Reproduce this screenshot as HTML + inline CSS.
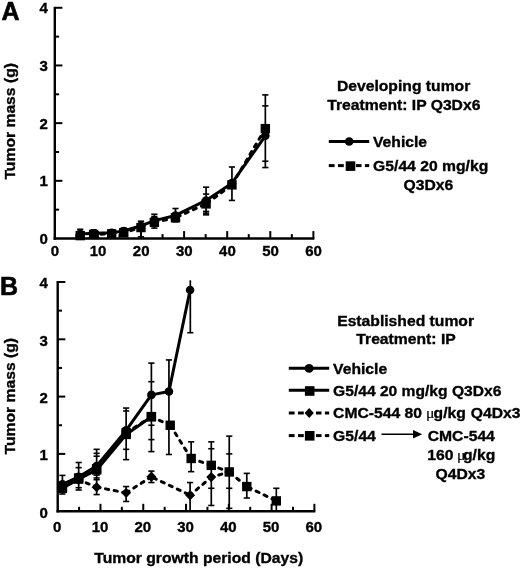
<!DOCTYPE html>
<html><head><meta charset="utf-8"><style>
html,body{margin:0;padding:0;background:#fff;}
svg{display:block;filter:grayscale(1) blur(0.3px);}
text{font-family:"Liberation Sans", sans-serif;font-weight:bold;fill:#000;stroke:#000;stroke-width:0.35px;}
.t{font-size:15px;}
.L{font-size:15px;}
.P{font-size:25px;stroke-width:0.6px;}
.mu{font-family:"Liberation Serif",serif;font-weight:normal;stroke-width:0.2px;}
</style></head><body>
<svg width="520" height="569" viewBox="0 0 520 569">
<line x1="54.8" y1="6.8" x2="54.8" y2="239.7" stroke="#000" stroke-width="2.4"/>
<line x1="53.599999999999994" y1="238.5" x2="314.4" y2="238.5" stroke="#000" stroke-width="2.4"/>
<line x1="54.8" y1="209.66" x2="59.099999999999994" y2="209.66" stroke="#000" stroke-width="2"/>
<line x1="54.8" y1="180.82" x2="62.4" y2="180.82" stroke="#000" stroke-width="2"/>
<line x1="54.8" y1="151.98" x2="59.099999999999994" y2="151.98" stroke="#000" stroke-width="2"/>
<line x1="54.8" y1="123.14" x2="62.4" y2="123.14" stroke="#000" stroke-width="2"/>
<line x1="54.8" y1="94.30" x2="59.099999999999994" y2="94.30" stroke="#000" stroke-width="2"/>
<line x1="54.8" y1="65.46" x2="62.4" y2="65.46" stroke="#000" stroke-width="2"/>
<line x1="54.8" y1="36.62" x2="59.099999999999994" y2="36.62" stroke="#000" stroke-width="2"/>
<line x1="54.8" y1="7.78" x2="62.4" y2="7.78" stroke="#000" stroke-width="2"/>
<line x1="76.35" y1="238.5" x2="76.35" y2="234.1" stroke="#000" stroke-width="2"/>
<line x1="97.90" y1="238.5" x2="97.90" y2="231.1" stroke="#000" stroke-width="2"/>
<line x1="119.45" y1="238.5" x2="119.45" y2="234.1" stroke="#000" stroke-width="2"/>
<line x1="141.00" y1="238.5" x2="141.00" y2="231.1" stroke="#000" stroke-width="2"/>
<line x1="162.55" y1="238.5" x2="162.55" y2="234.1" stroke="#000" stroke-width="2"/>
<line x1="184.10" y1="238.5" x2="184.10" y2="231.1" stroke="#000" stroke-width="2"/>
<line x1="205.65" y1="238.5" x2="205.65" y2="234.1" stroke="#000" stroke-width="2"/>
<line x1="227.20" y1="238.5" x2="227.20" y2="231.1" stroke="#000" stroke-width="2"/>
<line x1="248.75" y1="238.5" x2="248.75" y2="234.1" stroke="#000" stroke-width="2"/>
<line x1="270.30" y1="238.5" x2="270.30" y2="231.1" stroke="#000" stroke-width="2"/>
<line x1="291.85" y1="238.5" x2="291.85" y2="234.1" stroke="#000" stroke-width="2"/>
<line x1="313.40" y1="238.5" x2="313.40" y2="231.1" stroke="#000" stroke-width="2"/>
<text x="47.8" y="244.10" text-anchor="end" class="t">0</text>
<text x="47.8" y="186.42" text-anchor="end" class="t">1</text>
<text x="47.8" y="128.74" text-anchor="end" class="t">2</text>
<text x="47.8" y="71.06" text-anchor="end" class="t">3</text>
<text x="47.8" y="13.38" text-anchor="end" class="t">4</text>
<text x="55.00" y="256.40" text-anchor="middle" class="t">0</text>
<text x="98.10" y="256.40" text-anchor="middle" class="t">10</text>
<text x="141.20" y="256.40" text-anchor="middle" class="t">20</text>
<text x="184.30" y="256.40" text-anchor="middle" class="t">30</text>
<text x="227.40" y="256.40" text-anchor="middle" class="t">40</text>
<text x="270.50" y="256.40" text-anchor="middle" class="t">50</text>
<text x="313.60" y="256.40" text-anchor="middle" class="t">60</text>
<line x1="80.23" y1="229.27" x2="80.23" y2="238.50" stroke="#000" stroke-width="1.7"/>
<line x1="77.13" y1="229.27" x2="83.33" y2="229.27" stroke="#000" stroke-width="1.6"/>
<line x1="77.13" y1="238.50" x2="83.33" y2="238.50" stroke="#000" stroke-width="1.6"/>
<line x1="93.59" y1="229.85" x2="93.59" y2="237.35" stroke="#000" stroke-width="1.7"/>
<line x1="90.49" y1="229.85" x2="96.69" y2="229.85" stroke="#000" stroke-width="1.6"/>
<line x1="90.49" y1="237.35" x2="96.69" y2="237.35" stroke="#000" stroke-width="1.6"/>
<line x1="111.69" y1="229.85" x2="111.69" y2="236.77" stroke="#000" stroke-width="1.7"/>
<line x1="108.59" y1="229.85" x2="114.79" y2="229.85" stroke="#000" stroke-width="1.6"/>
<line x1="108.59" y1="236.77" x2="114.79" y2="236.77" stroke="#000" stroke-width="1.6"/>
<line x1="123.76" y1="228.12" x2="123.76" y2="236.19" stroke="#000" stroke-width="1.7"/>
<line x1="120.66" y1="228.12" x2="126.86" y2="228.12" stroke="#000" stroke-width="1.6"/>
<line x1="120.66" y1="236.19" x2="126.86" y2="236.19" stroke="#000" stroke-width="1.6"/>
<line x1="141.00" y1="221.20" x2="141.00" y2="236.77" stroke="#000" stroke-width="1.7"/>
<line x1="137.90" y1="221.20" x2="144.10" y2="221.20" stroke="#000" stroke-width="1.6"/>
<line x1="137.90" y1="236.77" x2="144.10" y2="236.77" stroke="#000" stroke-width="1.6"/>
<line x1="154.36" y1="214.27" x2="154.36" y2="228.12" stroke="#000" stroke-width="1.7"/>
<line x1="151.26" y1="214.27" x2="157.46" y2="214.27" stroke="#000" stroke-width="1.6"/>
<line x1="151.26" y1="228.12" x2="157.46" y2="228.12" stroke="#000" stroke-width="1.6"/>
<line x1="175.48" y1="208.51" x2="175.48" y2="221.77" stroke="#000" stroke-width="1.7"/>
<line x1="172.38" y1="208.51" x2="178.58" y2="208.51" stroke="#000" stroke-width="1.6"/>
<line x1="172.38" y1="221.77" x2="178.58" y2="221.77" stroke="#000" stroke-width="1.6"/>
<line x1="206.08" y1="187.16" x2="206.08" y2="214.85" stroke="#000" stroke-width="1.7"/>
<line x1="202.98" y1="187.16" x2="209.18" y2="187.16" stroke="#000" stroke-width="1.6"/>
<line x1="202.98" y1="214.85" x2="209.18" y2="214.85" stroke="#000" stroke-width="1.6"/>
<line x1="231.94" y1="166.98" x2="231.94" y2="200.43" stroke="#000" stroke-width="1.7"/>
<line x1="228.84" y1="166.98" x2="235.04" y2="166.98" stroke="#000" stroke-width="1.6"/>
<line x1="228.84" y1="200.43" x2="235.04" y2="200.43" stroke="#000" stroke-width="1.6"/>
<line x1="265.34" y1="94.88" x2="265.34" y2="167.55" stroke="#000" stroke-width="1.7"/>
<line x1="262.24" y1="94.88" x2="268.44" y2="94.88" stroke="#000" stroke-width="1.6"/>
<line x1="262.24" y1="167.55" x2="268.44" y2="167.55" stroke="#000" stroke-width="1.6"/>
<line x1="202.98" y1="194.09" x2="209.18" y2="194.09" stroke="#000" stroke-width="1.6"/>
<line x1="202.98" y1="211.39" x2="209.18" y2="211.39" stroke="#000" stroke-width="1.6"/>
<line x1="202.98" y1="213.12" x2="209.18" y2="213.12" stroke="#000" stroke-width="1.6"/>
<line x1="262.24" y1="105.84" x2="268.44" y2="105.84" stroke="#000" stroke-width="1.6"/>
<line x1="262.24" y1="161.21" x2="268.44" y2="161.21" stroke="#000" stroke-width="1.6"/>
<line x1="151.26" y1="216.58" x2="157.46" y2="216.58" stroke="#000" stroke-width="1.6"/>
<line x1="93.59" y1="234.46" x2="111.69" y2="233.89" stroke="#000" stroke-width="3" stroke-dasharray="3.2,5.6" stroke-dashoffset="-7.46" stroke-linecap="round"/>
<line x1="123.76" y1="232.73" x2="141.00" y2="227.54" stroke="#000" stroke-width="3" stroke-dasharray="3.2,5.6" stroke-dashoffset="-7.40" stroke-linecap="round"/>
<line x1="154.36" y1="222.35" x2="175.48" y2="217.74" stroke="#000" stroke-width="3" stroke-dasharray="3.2,5.6" stroke-dashoffset="-9.21" stroke-linecap="round"/>
<line x1="175.48" y1="217.74" x2="206.08" y2="203.89" stroke="#000" stroke-width="3" stroke-dasharray="3.2,5.6" stroke-dashoffset="-10.79" stroke-linecap="round"/>
<line x1="206.08" y1="203.89" x2="231.94" y2="184.86" stroke="#000" stroke-width="3" stroke-dasharray="3.2,5.6" stroke-dashoffset="-10.05" stroke-linecap="round"/>
<line x1="231.94" y1="184.86" x2="265.34" y2="128.62" stroke="#000" stroke-width="3" stroke-dasharray="3.2,5.6" stroke-dashoffset="-9.10" stroke-linecap="round"/>
<polyline points="80.23,233.89 93.59,233.31 111.69,232.73 123.76,231.00 141.00,225.81 154.36,220.62 175.48,215.43 206.08,200.43 231.94,183.13 265.34,135.83" fill="none" stroke="#000" stroke-width="3" stroke-linejoin="round"/>
<circle cx="80.23" cy="233.89" r="4.3" fill="#000"/>
<circle cx="93.59" cy="233.31" r="4.3" fill="#000"/>
<circle cx="111.69" cy="232.73" r="4.3" fill="#000"/>
<circle cx="123.76" cy="231.00" r="4.3" fill="#000"/>
<circle cx="141.00" cy="225.81" r="4.3" fill="#000"/>
<circle cx="154.36" cy="220.62" r="4.3" fill="#000"/>
<circle cx="175.48" cy="215.43" r="4.3" fill="#000"/>
<circle cx="206.08" cy="200.43" r="4.3" fill="#000"/>
<circle cx="231.94" cy="183.13" r="4.3" fill="#000"/>
<circle cx="265.34" cy="135.83" r="4.3" fill="#000"/>
<rect x="75.53" y="230.92" width="9.4" height="9.4" fill="#000"/>
<rect x="88.89" y="229.76" width="9.4" height="9.4" fill="#000"/>
<rect x="106.99" y="229.19" width="9.4" height="9.4" fill="#000"/>
<rect x="119.06" y="228.03" width="9.4" height="9.4" fill="#000"/>
<rect x="136.30" y="222.84" width="9.4" height="9.4" fill="#000"/>
<rect x="149.66" y="217.65" width="9.4" height="9.4" fill="#000"/>
<rect x="170.78" y="213.04" width="9.4" height="9.4" fill="#000"/>
<rect x="201.38" y="199.19" width="9.4" height="9.4" fill="#000"/>
<rect x="227.24" y="180.16" width="9.4" height="9.4" fill="#000"/>
<rect x="260.64" y="123.92" width="9.4" height="9.4" fill="#000"/>
<line x1="57.7" y1="281.0" x2="57.7" y2="512.4" stroke="#000" stroke-width="2.4"/>
<line x1="56.5" y1="511.2" x2="315.4" y2="511.2" stroke="#000" stroke-width="2.4"/>
<line x1="57.7" y1="482.55" x2="62.0" y2="482.55" stroke="#000" stroke-width="2"/>
<line x1="57.7" y1="453.90" x2="65.3" y2="453.90" stroke="#000" stroke-width="2"/>
<line x1="57.7" y1="425.25" x2="62.0" y2="425.25" stroke="#000" stroke-width="2"/>
<line x1="57.7" y1="396.60" x2="65.3" y2="396.60" stroke="#000" stroke-width="2"/>
<line x1="57.7" y1="367.95" x2="62.0" y2="367.95" stroke="#000" stroke-width="2"/>
<line x1="57.7" y1="339.30" x2="65.3" y2="339.30" stroke="#000" stroke-width="2"/>
<line x1="57.7" y1="310.65" x2="62.0" y2="310.65" stroke="#000" stroke-width="2"/>
<line x1="57.7" y1="282.00" x2="65.3" y2="282.00" stroke="#000" stroke-width="2"/>
<line x1="79.09" y1="511.2" x2="79.09" y2="506.8" stroke="#000" stroke-width="2"/>
<line x1="100.48" y1="511.2" x2="100.48" y2="503.8" stroke="#000" stroke-width="2"/>
<line x1="121.87" y1="511.2" x2="121.87" y2="506.8" stroke="#000" stroke-width="2"/>
<line x1="143.26" y1="511.2" x2="143.26" y2="503.8" stroke="#000" stroke-width="2"/>
<line x1="164.65" y1="511.2" x2="164.65" y2="506.8" stroke="#000" stroke-width="2"/>
<line x1="186.04" y1="511.2" x2="186.04" y2="503.8" stroke="#000" stroke-width="2"/>
<line x1="207.43" y1="511.2" x2="207.43" y2="506.8" stroke="#000" stroke-width="2"/>
<line x1="228.82" y1="511.2" x2="228.82" y2="503.8" stroke="#000" stroke-width="2"/>
<line x1="250.21" y1="511.2" x2="250.21" y2="506.8" stroke="#000" stroke-width="2"/>
<line x1="271.60" y1="511.2" x2="271.60" y2="503.8" stroke="#000" stroke-width="2"/>
<line x1="292.99" y1="511.2" x2="292.99" y2="506.8" stroke="#000" stroke-width="2"/>
<line x1="314.38" y1="511.2" x2="314.38" y2="503.8" stroke="#000" stroke-width="2"/>
<text x="47.8" y="517.50" text-anchor="end" class="t">0</text>
<text x="47.8" y="460.20" text-anchor="end" class="t">1</text>
<text x="47.8" y="402.90" text-anchor="end" class="t">2</text>
<text x="47.8" y="345.60" text-anchor="end" class="t">3</text>
<text x="47.8" y="288.30" text-anchor="end" class="t">4</text>
<text x="57.20" y="532.00" text-anchor="middle" class="t">0</text>
<text x="99.98" y="532.00" text-anchor="middle" class="t">10</text>
<text x="142.76" y="532.00" text-anchor="middle" class="t">20</text>
<text x="185.54" y="532.00" text-anchor="middle" class="t">30</text>
<text x="228.32" y="532.00" text-anchor="middle" class="t">40</text>
<text x="271.10" y="532.00" text-anchor="middle" class="t">50</text>
<text x="313.88" y="532.00" text-anchor="middle" class="t">60</text>
<line x1="62.41" y1="475.39" x2="62.41" y2="494.01" stroke="#000" stroke-width="1.7"/>
<line x1="59.31" y1="475.39" x2="65.51" y2="475.39" stroke="#000" stroke-width="1.6"/>
<line x1="59.31" y1="494.01" x2="65.51" y2="494.01" stroke="#000" stroke-width="1.6"/>
<line x1="78.66" y1="462.50" x2="78.66" y2="490.00" stroke="#000" stroke-width="1.7"/>
<line x1="75.56" y1="462.50" x2="81.76" y2="462.50" stroke="#000" stroke-width="1.6"/>
<line x1="75.56" y1="490.00" x2="81.76" y2="490.00" stroke="#000" stroke-width="1.6"/>
<line x1="96.63" y1="449.32" x2="96.63" y2="494.58" stroke="#000" stroke-width="1.7"/>
<line x1="93.53" y1="449.32" x2="99.73" y2="449.32" stroke="#000" stroke-width="1.6"/>
<line x1="93.53" y1="494.58" x2="99.73" y2="494.58" stroke="#000" stroke-width="1.6"/>
<line x1="126.15" y1="408.06" x2="126.15" y2="459.63" stroke="#000" stroke-width="1.7"/>
<line x1="123.05" y1="408.06" x2="129.25" y2="408.06" stroke="#000" stroke-width="1.6"/>
<line x1="123.05" y1="459.63" x2="129.25" y2="459.63" stroke="#000" stroke-width="1.6"/>
<line x1="151.39" y1="363.08" x2="151.39" y2="451.61" stroke="#000" stroke-width="1.7"/>
<line x1="148.29" y1="363.08" x2="154.49" y2="363.08" stroke="#000" stroke-width="1.6"/>
<line x1="148.29" y1="451.61" x2="154.49" y2="451.61" stroke="#000" stroke-width="1.6"/>
<line x1="168.93" y1="359.93" x2="168.93" y2="454.47" stroke="#000" stroke-width="1.7"/>
<line x1="165.83" y1="359.93" x2="172.03" y2="359.93" stroke="#000" stroke-width="1.6"/>
<line x1="165.83" y1="454.47" x2="172.03" y2="454.47" stroke="#000" stroke-width="1.6"/>
<line x1="190.32" y1="280.28" x2="190.32" y2="332.71" stroke="#000" stroke-width="1.7"/>
<line x1="187.22" y1="332.71" x2="193.42" y2="332.71" stroke="#000" stroke-width="1.6"/>
<line x1="191.17" y1="441.87" x2="191.17" y2="471.66" stroke="#000" stroke-width="1.7"/>
<line x1="188.07" y1="441.87" x2="194.27" y2="441.87" stroke="#000" stroke-width="1.6"/>
<line x1="188.07" y1="471.66" x2="194.27" y2="471.66" stroke="#000" stroke-width="1.6"/>
<line x1="190.10" y1="482.55" x2="190.10" y2="511.20" stroke="#000" stroke-width="1.7"/>
<line x1="187.00" y1="482.55" x2="193.20" y2="482.55" stroke="#000" stroke-width="1.6"/>
<line x1="211.28" y1="441.87" x2="211.28" y2="505.47" stroke="#000" stroke-width="1.7"/>
<line x1="208.18" y1="441.87" x2="214.38" y2="441.87" stroke="#000" stroke-width="1.6"/>
<line x1="208.18" y1="505.47" x2="214.38" y2="505.47" stroke="#000" stroke-width="1.6"/>
<line x1="229.25" y1="436.14" x2="229.25" y2="508.33" stroke="#000" stroke-width="1.7"/>
<line x1="226.15" y1="436.14" x2="232.35" y2="436.14" stroke="#000" stroke-width="1.6"/>
<line x1="226.15" y1="508.33" x2="232.35" y2="508.33" stroke="#000" stroke-width="1.6"/>
<line x1="246.79" y1="473.38" x2="246.79" y2="498.02" stroke="#000" stroke-width="1.7"/>
<line x1="243.69" y1="473.38" x2="249.89" y2="473.38" stroke="#000" stroke-width="1.6"/>
<line x1="243.69" y1="498.02" x2="249.89" y2="498.02" stroke="#000" stroke-width="1.6"/>
<line x1="276.31" y1="488.28" x2="276.31" y2="511.20" stroke="#000" stroke-width="1.7"/>
<line x1="273.21" y1="488.28" x2="279.41" y2="488.28" stroke="#000" stroke-width="1.6"/>
<line x1="126.15" y1="486.56" x2="126.15" y2="501.46" stroke="#000" stroke-width="1.7"/>
<line x1="123.05" y1="486.56" x2="129.25" y2="486.56" stroke="#000" stroke-width="1.6"/>
<line x1="123.05" y1="501.46" x2="129.25" y2="501.46" stroke="#000" stroke-width="1.6"/>
<line x1="151.39" y1="471.09" x2="151.39" y2="482.55" stroke="#000" stroke-width="1.7"/>
<line x1="148.29" y1="471.09" x2="154.49" y2="471.09" stroke="#000" stroke-width="1.6"/>
<line x1="148.29" y1="482.55" x2="154.49" y2="482.55" stroke="#000" stroke-width="1.6"/>
<line x1="75.56" y1="467.65" x2="81.76" y2="467.65" stroke="#000" stroke-width="1.6"/>
<line x1="75.56" y1="487.71" x2="81.76" y2="487.71" stroke="#000" stroke-width="1.6"/>
<line x1="93.53" y1="453.33" x2="99.73" y2="453.33" stroke="#000" stroke-width="1.6"/>
<line x1="93.53" y1="456.19" x2="99.73" y2="456.19" stroke="#000" stroke-width="1.6"/>
<line x1="93.53" y1="475.10" x2="99.73" y2="475.10" stroke="#000" stroke-width="1.6"/>
<line x1="93.53" y1="477.97" x2="99.73" y2="477.97" stroke="#000" stroke-width="1.6"/>
<line x1="93.53" y1="479.69" x2="99.73" y2="479.69" stroke="#000" stroke-width="1.6"/>
<line x1="123.05" y1="410.93" x2="129.25" y2="410.93" stroke="#000" stroke-width="1.6"/>
<line x1="123.05" y1="449.32" x2="129.25" y2="449.32" stroke="#000" stroke-width="1.6"/>
<line x1="148.29" y1="381.70" x2="154.49" y2="381.70" stroke="#000" stroke-width="1.6"/>
<line x1="148.29" y1="425.25" x2="154.49" y2="425.25" stroke="#000" stroke-width="1.6"/>
<line x1="148.29" y1="439.57" x2="154.49" y2="439.57" stroke="#000" stroke-width="1.6"/>
<line x1="208.18" y1="448.74" x2="214.38" y2="448.74" stroke="#000" stroke-width="1.6"/>
<line x1="208.18" y1="488.28" x2="214.38" y2="488.28" stroke="#000" stroke-width="1.6"/>
<line x1="226.15" y1="453.90" x2="232.35" y2="453.90" stroke="#000" stroke-width="1.6"/>
<line x1="226.15" y1="488.28" x2="232.35" y2="488.28" stroke="#000" stroke-width="1.6"/>
<line x1="62.41" y1="485.41" x2="78.66" y2="479.69" stroke="#000" stroke-width="3" stroke-dasharray="3.2,5.6" stroke-dashoffset="-7.02" stroke-linecap="round"/>
<line x1="78.66" y1="479.69" x2="96.63" y2="487.13" stroke="#000" stroke-width="3" stroke-dasharray="3.2,5.6" stroke-dashoffset="-8.13" stroke-linecap="round"/>
<line x1="96.63" y1="487.13" x2="126.15" y2="492.86" stroke="#000" stroke-width="3" stroke-dasharray="3.2,5.6" stroke-dashoffset="-9.03" stroke-linecap="round"/>
<line x1="126.15" y1="492.86" x2="151.39" y2="476.82" stroke="#000" stroke-width="3" stroke-dasharray="3.2,5.6" stroke-dashoffset="-8.95" stroke-linecap="round"/>
<line x1="151.39" y1="476.82" x2="190.10" y2="495.16" stroke="#000" stroke-width="3" stroke-dasharray="3.2,5.6" stroke-dashoffset="-11.02" stroke-linecap="round"/>
<line x1="190.10" y1="495.16" x2="211.28" y2="477.11" stroke="#000" stroke-width="3" stroke-dasharray="3.2,5.6" stroke-dashoffset="-7.91" stroke-linecap="round"/>
<line x1="211.28" y1="477.11" x2="229.25" y2="471.95" stroke="#000" stroke-width="3" stroke-dasharray="3.2,5.6" stroke-dashoffset="-7.75" stroke-linecap="round"/>
<line x1="62.41" y1="487.13" x2="78.66" y2="477.97" stroke="#000" stroke-width="3" stroke-dasharray="3.2,5.6" stroke-dashoffset="-7.73" stroke-linecap="round"/>
<line x1="78.66" y1="477.97" x2="96.63" y2="468.80" stroke="#000" stroke-width="3" stroke-dasharray="3.2,5.6" stroke-dashoffset="-8.49" stroke-linecap="round"/>
<line x1="96.63" y1="468.80" x2="126.15" y2="432.70" stroke="#000" stroke-width="3" stroke-dasharray="3.2,5.6" stroke-dashoffset="-8.52" stroke-linecap="round"/>
<line x1="126.15" y1="432.70" x2="151.39" y2="416.65" stroke="#000" stroke-width="3" stroke-dasharray="3.2,5.6" stroke-dashoffset="-8.95" stroke-linecap="round"/>
<line x1="151.39" y1="416.65" x2="170.21" y2="425.25" stroke="#000" stroke-width="3" stroke-dasharray="3.2,5.6" stroke-dashoffset="-8.75" stroke-linecap="round"/>
<line x1="170.21" y1="425.25" x2="191.17" y2="458.48" stroke="#000" stroke-width="3" stroke-dasharray="3.2,5.6" stroke-dashoffset="-9.25" stroke-linecap="round"/>
<line x1="191.17" y1="458.48" x2="211.28" y2="465.36" stroke="#000" stroke-width="3" stroke-dasharray="3.2,5.6" stroke-dashoffset="-9.02" stroke-linecap="round"/>
<line x1="211.28" y1="465.36" x2="229.25" y2="471.95" stroke="#000" stroke-width="3" stroke-dasharray="3.2,5.6" stroke-dashoffset="-7.97" stroke-linecap="round"/>
<line x1="229.25" y1="471.95" x2="246.79" y2="486.56" stroke="#000" stroke-width="3" stroke-dasharray="3.2,5.6" stroke-dashoffset="-9.81" stroke-linecap="round"/>
<line x1="246.79" y1="486.56" x2="276.31" y2="500.89" stroke="#000" stroke-width="3" stroke-dasharray="3.2,5.6" stroke-dashoffset="-10.41" stroke-linecap="round"/>
<polyline points="62.41,488.28 78.66,479.11 96.63,469.94 126.15,434.42 151.39,416.65" fill="none" stroke="#000" stroke-width="3" stroke-linejoin="round"/>
<polyline points="62.41,484.27 78.66,476.82 96.63,465.93 126.15,430.41 151.39,394.88 168.93,391.44 190.10,290.02" fill="none" stroke="#000" stroke-width="3" stroke-linejoin="round"/>
<circle cx="62.41" cy="484.27" r="4.3" fill="#000"/>
<circle cx="78.66" cy="476.82" r="4.3" fill="#000"/>
<circle cx="96.63" cy="465.93" r="4.3" fill="#000"/>
<circle cx="126.15" cy="430.41" r="4.3" fill="#000"/>
<circle cx="151.39" cy="394.88" r="4.3" fill="#000"/>
<circle cx="168.93" cy="391.44" r="4.3" fill="#000"/>
<circle cx="190.10" cy="290.02" r="4.3" fill="#000"/>
<rect x="57.71" y="483.58" width="9.4" height="9.4" fill="#000"/>
<rect x="73.96" y="474.41" width="9.4" height="9.4" fill="#000"/>
<rect x="91.93" y="465.24" width="9.4" height="9.4" fill="#000"/>
<rect x="121.45" y="429.72" width="9.4" height="9.4" fill="#000"/>
<rect x="146.69" y="411.95" width="9.4" height="9.4" fill="#000"/>
<path d="M62.41 480.21L67.41 485.41L62.41 490.61L57.41 485.41Z" fill="#000"/>
<path d="M78.66 474.49L83.66 479.69L78.66 484.88L73.66 479.69Z" fill="#000"/>
<path d="M96.63 481.93L101.63 487.13L96.63 492.33L91.63 487.13Z" fill="#000"/>
<path d="M126.15 487.66L131.15 492.86L126.15 498.06L121.15 492.86Z" fill="#000"/>
<path d="M151.39 471.62L156.39 476.82L151.39 482.02L146.39 476.82Z" fill="#000"/>
<path d="M190.10 489.96L195.10 495.16L190.10 500.36L185.10 495.16Z" fill="#000"/>
<path d="M211.28 471.91L216.28 477.11L211.28 482.31L206.28 477.11Z" fill="#000"/>
<path d="M229.25 466.75L234.25 471.95L229.25 477.15L224.25 471.95Z" fill="#000"/>
<rect x="57.71" y="482.43" width="9.4" height="9.4" fill="#000"/>
<rect x="73.96" y="473.27" width="9.4" height="9.4" fill="#000"/>
<rect x="91.93" y="464.10" width="9.4" height="9.4" fill="#000"/>
<rect x="121.45" y="428.00" width="9.4" height="9.4" fill="#000"/>
<rect x="146.69" y="411.95" width="9.4" height="9.4" fill="#000"/>
<rect x="165.51" y="420.55" width="9.4" height="9.4" fill="#000"/>
<rect x="186.47" y="453.78" width="9.4" height="9.4" fill="#000"/>
<rect x="206.58" y="460.66" width="9.4" height="9.4" fill="#000"/>
<rect x="224.55" y="467.25" width="9.4" height="9.4" fill="#000"/>
<rect x="242.09" y="481.86" width="9.4" height="9.4" fill="#000"/>
<rect x="271.61" y="496.19" width="9.4" height="9.4" fill="#000"/>
<text x="1.6" y="20.0" class="P">A</text>
<text x="0" y="294.7" class="P">B</text>
<text transform="translate(14.6,121.3) rotate(-90) scale(1.047,1)" text-anchor="middle" class="L">Tumor mass (g)</text>
<text transform="translate(14.6,396.2) rotate(-90) scale(1.047,1)" text-anchor="middle" class="L">Tumor mass (g)</text>
<text transform="translate(198.7,563.3) scale(1.047,1)" text-anchor="middle" class="L">Tumor growth period (Days)</text>
<text transform="translate(403.6,91) scale(1.047,1)" text-anchor="middle" class="L">Developing tumor</text>
<text transform="translate(403.8,109.5) scale(1.047,1)" text-anchor="middle" class="L">Treatment: IP Q3Dx6</text>
<line x1="328.8" y1="141.5" x2="369.2" y2="141.5" stroke="#000" stroke-width="3"/>
<circle cx="349.20" cy="141.50" r="4.3" fill="#000"/>
<line x1="328.8" y1="165.6" x2="334.6" y2="165.6" stroke="#000" stroke-width="3"/>
<line x1="338.0" y1="165.6" x2="343.8" y2="165.6" stroke="#000" stroke-width="3"/>
<line x1="356.0" y1="165.6" x2="361.5" y2="165.6" stroke="#000" stroke-width="3"/>
<line x1="364.90000000000003" y1="165.6" x2="369.2" y2="165.6" stroke="#000" stroke-width="3"/>
<rect x="345.70" y="161.30" width="9.6" height="9.6" fill="#000"/>
<text transform="translate(373.0,147.2) scale(1.047,1)" class="L">Vehicle</text>
<text transform="translate(373.1,171.4) scale(1.047,1)" class="L">G5/44 20 mg/kg</text>
<text transform="translate(403.5,190.1) scale(1.047,1)" class="L">Q3Dx6</text>
<text transform="translate(405.6,325.6) scale(1.047,1)" text-anchor="middle" class="L">Established tumor</text>
<text transform="translate(406,344.4) scale(1.047,1)" text-anchor="middle" class="L">Treatment: IP</text>
<line x1="288.8" y1="368.2" x2="329.2" y2="368.2" stroke="#000" stroke-width="3"/>
<circle cx="309.10" cy="368.40" r="4.4" fill="#000"/>
<line x1="288.8" y1="390.2" x2="329.2" y2="390.2" stroke="#000" stroke-width="3"/>
<rect x="304.90" y="386.20" width="9.6" height="9.6" fill="#000"/>
<line x1="288.8" y1="413.0" x2="294.6" y2="413.0" stroke="#000" stroke-width="3"/>
<line x1="298.0" y1="413.0" x2="303.8" y2="413.0" stroke="#000" stroke-width="3"/>
<line x1="316.0" y1="413.0" x2="321.5" y2="413.0" stroke="#000" stroke-width="3"/>
<line x1="324.90000000000003" y1="413.0" x2="329.2" y2="413.0" stroke="#000" stroke-width="3"/>
<path d="M309.20 408.10L313.80 413.00L309.20 417.90L304.60 413.00Z" fill="#000"/>
<line x1="288.8" y1="435.6" x2="294.6" y2="435.6" stroke="#000" stroke-width="3"/>
<line x1="298.0" y1="435.6" x2="303.8" y2="435.6" stroke="#000" stroke-width="3"/>
<line x1="316.0" y1="435.6" x2="321.5" y2="435.6" stroke="#000" stroke-width="3"/>
<line x1="324.90000000000003" y1="435.6" x2="329.2" y2="435.6" stroke="#000" stroke-width="3"/>
<rect x="304.90" y="431.00" width="9.6" height="9.6" fill="#000"/>
<text transform="translate(333.1,373.9) scale(1.047,1)" class="L">Vehicle</text>
<text transform="translate(333.1,396.2) scale(1.041,1)" class="L">G5/44 20 mg/kg Q3Dx6</text>
<text transform="translate(333.1,418.4) scale(1.047,1)" class="L">CMC-544 80</text>
<text transform="translate(425.9,418.4) scale(1.05,1)" class="L mu">μ</text>
<text transform="translate(433.6,418.4) scale(1.047,1)" class="L">g/kg</text>
<text transform="translate(470.8,418.4) scale(1.047,1)" class="L">Q4Dx3</text>
<text transform="translate(333.1,441.2) scale(1.047,1)" class="L">G5/44</text>
<line x1="381.5" y1="434.2" x2="415" y2="434.2" stroke="#000" stroke-width="1.6"/>
<path d="M413 429.9 L422.2 434.2 L413 438.5 Z" fill="#000"/>
<text transform="translate(427.7,441.2) scale(1.047,1)" class="L">CMC-544</text>
<text transform="translate(427.3,460.4) scale(1.047,1)" class="L">160</text>
<text transform="translate(456.9,460.4) scale(1.05,1)" class="L mu">μ</text>
<text transform="translate(463.0,460.4) scale(1.047,1)" class="L">g/kg</text>
<text transform="translate(435.6,478.8) scale(1.047,1)" class="L">Q4Dx3</text>
</svg>
</body></html>
